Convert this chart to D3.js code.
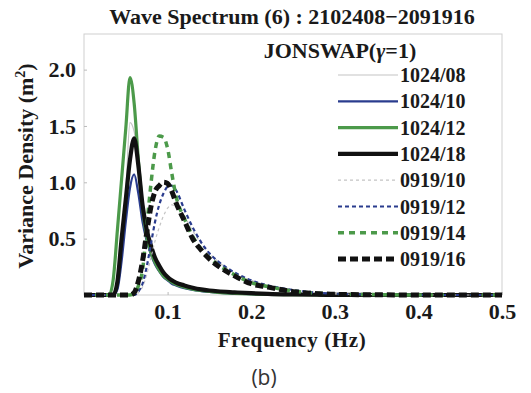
<!DOCTYPE html>
<html>
<head>
<meta charset="utf-8">
<script src="https://cdn.jsdelivr.net/npm/d3@7"></script>
<style>
  html, body { margin: 0; padding: 0; background: #fff; }
  svg { display: block; }
  .serif { font-family: "Liberation Serif", "Times New Roman", serif; font-weight: bold; fill: #1a1a1a; }
</style>
</head>
<body>
<svg id="chart" width="531" height="393"></svg>
<script>
// Frequency grid (Hz) shared by all spectra
const freq = [0, 0.03, 0.035, 0.04, 0.045, 0.05, 0.055, 0.06, 0.065, 0.07,
  0.075, 0.08, 0.085, 0.09, 0.095, 0.10, 0.105, 0.11, 0.12, 0.13,
  0.14, 0.15, 0.16, 0.18, 0.20, 0.22, 0.25, 0.28, 0.30, 0.35,
  0.40, 0.45, 0.50];

// Variance density (m^2/Hz) per record
const s1024_08 = [0, 0, 0, 0.1, 0.45, 0.92, 1.53, 1.45, 1.12, 0.78, 0.56, 0.42, 0.32, 0.25, 0.19, 0.15, 0.12, 0.1, 0.075, 0.058, 0.045, 0.036, 0.03, 0.02, 0.013, 0.008, 0.004, 0.002, 0.001, 0, 0, 0, 0];
const s1024_10 = [0, 0, 0, 0.05, 0.3, 0.65, 0.95, 1.07, 0.9, 0.65, 0.48, 0.36, 0.27, 0.21, 0.16, 0.13, 0.1, 0.085, 0.06, 0.045, 0.035, 0.027, 0.02, 0.012, 0.007, 0.004, 0.002, 0.001, 0, 0, 0, 0, 0];
const s1024_12 = [0, 0, 0.14, 0.58, 1.03, 1.48, 1.93, 1.7, 1.2, 0.78, 0.52, 0.38, 0.29, 0.22, 0.17, 0.14, 0.115, 0.095, 0.07, 0.052, 0.04, 0.031, 0.024, 0.015, 0.009, 0.005, 0.003, 0.001, 0, 0, 0, 0, 0];
const s1024_18 = [0, 0, 0, 0.12, 0.5, 0.85, 1.2, 1.39, 1.15, 0.8, 0.58, 0.44, 0.33, 0.26, 0.2, 0.16, 0.13, 0.11, 0.085, 0.065, 0.05, 0.04, 0.033, 0.024, 0.016, 0.01, 0.005, 0.002, 0.001, 0, 0, 0, 0];
const s0919_10 = [0, 0, 0, 0, 0, 0, 0, 0, 0.02, 0.07, 0.18, 0.33, 0.48, 0.6, 0.7, 0.77, 0.8, 0.79, 0.7, 0.57, 0.46, 0.37, 0.3, 0.2, 0.13, 0.085, 0.045, 0.02, 0.01, 0.004, 0.001, 0, 0];
const s0919_12 = [0, 0, 0, 0, 0, 0, 0, 0, 0.03, 0.1, 0.25, 0.45, 0.65, 0.8, 0.9, 0.96, 0.97, 0.93, 0.76, 0.6, 0.47, 0.37, 0.3, 0.2, 0.13, 0.085, 0.045, 0.02, 0.012, 0.004, 0.001, 0, 0];
const s0919_14 = [0, 0, 0, 0, 0, 0, 0, 0.02, 0.08, 0.22, 0.6, 0.98, 1.28, 1.41, 1.4, 1.3, 1.08, 0.88, 0.68, 0.52, 0.41, 0.33, 0.27, 0.18, 0.11, 0.075, 0.035, 0.015, 0.008, 0.003, 0, 0, 0];
const s0919_16 = [0, 0, 0, 0, 0, 0, 0, 0.02, 0.12, 0.3, 0.55, 0.78, 0.92, 0.97, 1.0, 0.99, 0.92, 0.82, 0.66, 0.5, 0.4, 0.32, 0.26, 0.17, 0.1, 0.07, 0.03, 0.012, 0.006, 0.002, 0, 0, 0];

const seriesNames = ["1024/08", "1024/10", "1024/12", "1024/18", "0919/10", "0919/12", "0919/14", "0919/16"];
const seriesValues = [s1024_08, s1024_10, s1024_12, s1024_18, s0919_10, s0919_12, s0919_14, s0919_16];

const xTicks = [0.1, 0.2, 0.3, 0.4, 0.5];
const yTicks = [0.5, 1.0, 1.5, 2.0];

const chartTitle = "Wave Spectrum (6) : 2102408\u22122091916";
const xTitle = "Frequency (Hz)";
const panelLabel = "(b)";

// Line styling per record
const styles = [
  { color: "#c4c4c4", width: 1.2, dash: null },
  { color: "#2a3c8e", width: 2.2, dash: null },
  { color: "#4c9a4a", width: 3.2, dash: null },
  { color: "#111111", width: 4.2, dash: null },
  { color: "#c4c4c4", width: 1.2, dash: "3,3" },
  { color: "#2a3c8e", width: 2.2, dash: "4,3" },
  { color: "#4c9a4a", width: 3.5, dash: "6,5" },
  { color: "#111111", width: 5, dash: "8,4" }
];

const serifFont = "'Liberation Serif', 'Times New Roman', serif";
const svg = d3.select("#chart");
const plotL = 84, plotR = 502, plotT = 34, plotB = 295;

const x = d3.scaleLinear().domain([0, 0.5]).range([plotL, plotR]);
const y = d3.scaleLinear().domain([0, 2.316]).range([plotB, plotT]);

// Plot frame
svg.append("rect")
  .attr("x", plotL).attr("y", plotT)
  .attr("width", plotR - plotL).attr("height", plotB - plotT)
  .attr("fill", "none").attr("stroke", "#cfcfcf").attr("stroke-width", 1);

// Axes (labels outside, small inward ticks)
const xAxis = d3.axisBottom(x).tickValues(xTicks).tickFormat(d3.format(".1f")).tickSize(-3).tickPadding(8);
const gx = svg.append("g").attr("transform", `translate(0,${plotB})`).call(xAxis)
  .attr("font-family", serifFont).attr("font-size", 22).attr("font-weight", "bold");
gx.select(".domain").remove();
gx.selectAll(".tick line").attr("stroke", "#bbb");
gx.selectAll("text").attr("fill", "#1a1a1a");

const yAxis = d3.axisLeft(y).tickValues(yTicks).tickFormat(d3.format(".1f")).tickSize(-3).tickPadding(8);
const gy = svg.append("g").attr("transform", `translate(${plotL},0)`).call(yAxis)
  .attr("font-family", serifFont).attr("font-size", 22).attr("font-weight", "bold");
gy.select(".domain").remove();
gy.selectAll(".tick line").attr("stroke", "#bbb");
gy.selectAll("text").attr("fill", "#1a1a1a");

// Spectra
const line = d3.line()
  .x((d, i) => x(freq[i]))
  .y(d => y(d))
  .curve(d3.curveMonotoneX);

seriesValues.forEach((vals, k) => {
  const st = styles[k];
  svg.append("path")
    .datum(vals)
    .attr("d", line)
    .attr("fill", "none")
    .attr("stroke", st.color)
    .attr("stroke-width", st.width)
    .attr("stroke-dasharray", st.dash)
    .attr("stroke-linejoin", "round");
});

// Titles
svg.append("text").attr("class", "serif")
  .attr("x", 292).attr("y", 24).attr("text-anchor", "middle")
  .style("font-size", "22px").text(chartTitle);

svg.append("text").attr("class", "serif")
  .attr("x", 292).attr("y", 347).attr("text-anchor", "middle")
  .style("font-size", "21px").style("letter-spacing", "0.6px").text(xTitle);

const yt = svg.append("text").attr("class", "serif")
  .attr("transform", "translate(33,166) rotate(-90)")
  .attr("text-anchor", "middle").style("font-size", "22px");
yt.append("tspan").text("Variance Density (m");
yt.append("tspan").attr("dy", -8).style("font-size", "14px").text("2");
yt.append("tspan").attr("dy", 8).text(")");

svg.append("text")
  .attr("x", 264).attr("y", 385).attr("text-anchor", "middle")
  .style("font-family", "'Open Sans', 'Noto Sans', sans-serif")
  .style("font-size", "21px").style("fill", "#333").text(panelLabel);

// Legend
const lg = svg.append("g");
const lt = lg.append("text").attr("class", "serif")
  .attr("x", 340).attr("y", 58).attr("text-anchor", "middle").style("font-size", "22px");
lt.append("tspan").text("JONSWAP(");
lt.append("tspan").style("font-style", "italic").text("\u03b3");
lt.append("tspan").text("=1)");

const rowY = i => 75 + i * 26.3;
seriesNames.forEach((name, i) => {
  const st = styles[i];
  lg.append("line")
    .attr("x1", 338).attr("x2", 398)
    .attr("y1", rowY(i)).attr("y2", rowY(i))
    .attr("stroke", st.color)
    .attr("stroke-width", st.width)
    .attr("stroke-dasharray", st.dash);
  lg.append("text").attr("class", "serif")
    .attr("x", 400).attr("y", rowY(i) + 7)
    .style("font-size", "20px").text(name);
});
</script>
</body>
</html>
